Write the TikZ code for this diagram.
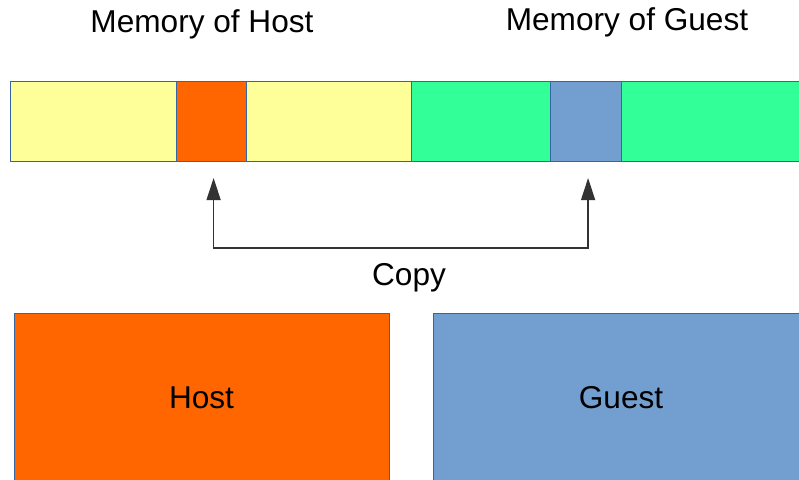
\documentclass[tikz,border=0pt]{standalone}
\usepackage{fontspec}
\setmainfont{Liberation Sans}
\usetikzlibrary{arrows.meta,positioning}
\definecolor{memyellow}{HTML}{FFFF99}
\definecolor{hostorange}{HTML}{FF6600}
\definecolor{guestgreen}{HTML}{33FF99}
\definecolor{guestblue}{HTML}{729FCF}
\definecolor{edgeblue}{HTML}{3465A4}
\definecolor{linegray}{HTML}{333333}

\begin{document}
\begin{tikzpicture}[x=0.5pt,y=-0.5pt,
  seg/.style={draw=edgeblue,line width=0.5pt,minimum height=40pt,inner sep=0pt,outer sep=0pt},
  bigbox/.style={draw=edgeblue,line width=0.5pt,minimum height=85pt,inner sep=0pt,outer sep=0pt,font=\fontsize{15.8}{19}\selectfont},
  lbl/.style={font=\fontsize{15.8}{19}\selectfont},
  copyline/.style={{Triangle[length=11pt,width=7pt]}-{Triangle[length=11pt,width=7pt]},linegray,line width=0.65pt,shorten <=8.5pt,shorten >=8.5pt}]
  \clip (0,0) rectangle (799,479);
  % Titles
  \node[lbl] (hosttitle) at (202,24) {Memory of Host};
  \node[lbl] (guesttitle) at (627,22) {Memory of Guest};
  % Memory bar
  \node[seg,fill=memyellow,minimum width=83pt,anchor=north west] (hleft) at (10,81) {};
  \node[seg,fill=hostorange,minimum width=35pt,right=0pt of hleft] (hmem) {};
  \node[seg,fill=memyellow,minimum width=82.5pt,right=0pt of hmem] (hright) {};
  \node[seg,fill=guestgreen,minimum width=69.5pt,right=0pt of hright] (gleft) {};
  \node[seg,fill=guestblue,minimum width=35.5pt,right=0pt of gleft] (gmem) {};
  \node[seg,fill=guestgreen,minimum width=95pt,right=0pt of gmem] (gright) {};
  % Copy
  \draw[copyline] ([xshift=1.3pt]hmem.south) -- ++(0,87) -| ([xshift=1.3pt]gmem.south);
  \node[lbl] (copy) at (409,278) {Copy};
  % Host and guest
  \node[bigbox,fill=hostorange,minimum width=187.5pt,anchor=north west] (host) at (14,313) {Host};
  \node[bigbox,fill=guestblue,minimum width=188pt,anchor=north west] (guest) at (433,313) {Guest};
\end{tikzpicture}
\end{document}
